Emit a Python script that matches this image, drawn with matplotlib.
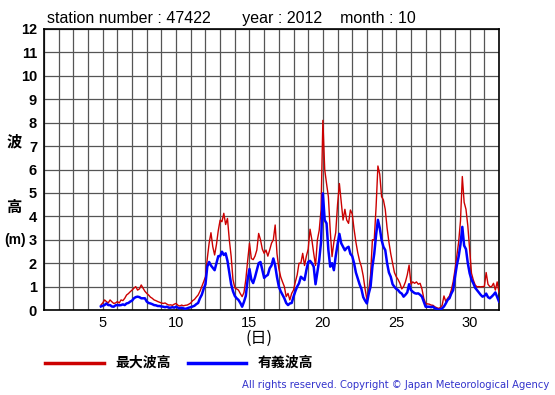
import numpy as np
import matplotlib
matplotlib.use("Agg")
import matplotlib.pyplot as plt

plt.rcParams['font.family'] = ['Liberation Sans', 'Noto Sans CJK JP', 'DejaVu Sans']

# --- data: 3-hourly values, one row per day (00,03,...,21h) ---
START_DAY = 4
nan = np.nan
# max wave height (m)
hmax = [
    nan, nan, nan, nan, nan, nan, nan, 0.21,          # 4
    0.30, 0.43, 0.36, 0.30, 0.43, 0.35, 0.28, 0.30,   # 5
    0.36, 0.30, 0.43, 0.40, 0.50, 0.64, 0.70, 0.78,   # 6
    0.85, 0.93, 1.00, 0.85, 0.90, 1.07, 0.93, 0.80,   # 7
    0.71, 0.64, 0.55, 0.50, 0.43, 0.40, 0.36, 0.33,   # 8
    0.30, 0.28, 0.30, 0.25, 0.21, 0.22, 0.20, 0.25,   # 9
    0.28, 0.20, 0.17, 0.21, 0.18, 0.20, 0.21, 0.25,   # 10
    0.30, 0.40, 0.45, 0.55, 0.64, 0.80, 1.00, 1.20,   # 11
    1.42, 2.20, 2.85, 3.30, 2.70, 2.35, 2.80, 3.40,   # 12
    3.84, 3.77, 4.13, 3.65, 3.91, 3.00, 2.30, 1.30,   # 13
    0.95, 0.90, 0.85, 0.70, 0.57, 0.75, 1.30, 2.10,   # 14
    2.85, 2.20, 2.15, 2.30, 2.56, 3.27, 3.00, 2.60,   # 15
    2.42, 2.56, 2.30, 2.56, 2.85, 3.00, 3.63, 2.40,   # 16
    1.78, 1.42, 1.20, 1.00, 0.57, 0.71, 0.43, 0.71,   # 17
    0.85, 1.20, 1.50, 2.00, 2.00, 2.42, 1.90, 2.30,   # 18
    2.60, 3.45, 3.00, 2.42, 1.90, 2.99, 3.40, 4.27,   # 19
    8.10, 6.00, 5.40, 4.84, 3.40, 2.28, 2.90, 3.30,   # 20
    4.50, 5.40, 4.60, 3.84, 4.30, 3.84, 3.70, 4.27,   # 21
    4.10, 3.45, 2.90, 2.45, 2.10, 1.85, 1.45, 0.90,   # 22
    0.45, 0.85, 1.50, 3.00, 3.00, 4.40, 6.15, 5.80,   # 23
    4.84, 4.70, 4.30, 3.50, 2.90, 2.40, 2.00, 1.60,   # 24
    1.42, 1.30, 1.14, 0.90, 1.00, 1.20, 1.50, 1.92,   # 25
    1.10, 1.20, 1.14, 1.20, 1.10, 1.14, 0.90, 0.50,   # 26
    0.28, 0.26, 0.25, 0.21, 0.20, 0.14, 0.10, 0.07,   # 27
    0.10, 0.20, 0.60, 0.36, 0.50, 0.60, 0.85, 1.20,   # 28
    1.71, 2.30, 2.90, 3.80, 5.70, 4.60, 4.30, 3.60,   # 29
    2.56, 1.57, 1.28, 1.07, 0.99, 1.00, 0.99, 1.00,   # 30
    1.00, 1.60, 1.10, 1.00, 1.00, 1.14, 0.85, 1.20,   # 31
    0.75,                                             # 32
]
# significant wave height (m)
hsig = [
    nan, nan, nan, nan, nan, nan, nan, 0.15,          # 4
    0.18, 0.21, 0.28, 0.21, 0.21, 0.15, 0.14, 0.20,   # 5
    0.21, 0.20, 0.21, 0.24, 0.21, 0.28, 0.30, 0.36,   # 6
    0.40, 0.50, 0.55, 0.57, 0.55, 0.50, 0.50, 0.50,   # 7
    0.36, 0.30, 0.28, 0.25, 0.21, 0.20, 0.17, 0.17,   # 8
    0.15, 0.14, 0.12, 0.14, 0.10, 0.10, 0.12, 0.10,   # 9
    0.14, 0.10, 0.07, 0.10, 0.07, 0.05, 0.07, 0.10,   # 10
    0.12, 0.15, 0.18, 0.25, 0.30, 0.50, 0.65, 0.90,   # 11
    1.10, 1.85, 2.05, 1.90, 1.80, 1.70, 2.00, 2.30,   # 12
    2.30, 2.49, 2.35, 2.42, 2.10, 1.60, 1.10, 0.80,   # 13
    0.60, 0.50, 0.43, 0.30, 0.14, 0.35, 0.60, 1.30,   # 14
    1.75, 1.30, 1.15, 1.40, 1.70, 2.00, 2.05, 1.70,   # 15
    1.37, 1.45, 1.50, 1.78, 1.90, 2.20, 1.90, 1.40,   # 16
    1.00, 0.80, 0.65, 0.50, 0.30, 0.21, 0.28, 0.30,   # 17
    0.57, 0.80, 1.00, 1.14, 1.42, 1.35, 1.28, 1.70,   # 18
    2.05, 2.10, 2.00, 1.85, 1.10, 1.60, 2.13, 2.90,   # 19
    4.98, 3.84, 3.70, 2.56, 1.85, 2.00, 1.70, 2.30,   # 20
    2.80, 3.25, 2.85, 2.70, 2.55, 2.65, 2.70, 2.40,   # 21
    2.30, 2.00, 1.60, 1.35, 1.10, 0.90, 0.55, 0.40,   # 22
    0.28, 0.70, 1.00, 1.85, 2.40, 3.20, 3.85, 3.50,   # 23
    2.99, 2.70, 2.56, 2.00, 1.60, 1.42, 1.10, 0.99,   # 24
    0.90, 0.85, 0.75, 0.70, 0.57, 0.65, 0.75, 1.10,   # 25
    0.85, 0.78, 0.72, 0.70, 0.71, 0.65, 0.57, 0.35,   # 26
    0.14, 0.14, 0.14, 0.12, 0.14, 0.07, 0.05, 0.00,   # 27
    0.03, 0.07, 0.15, 0.28, 0.43, 0.50, 0.70, 0.85,   # 28
    1.40, 1.90, 2.28, 2.80, 3.55, 2.75, 2.60, 2.00,   # 29
    1.57, 1.30, 1.14, 0.95, 0.85, 0.75, 0.65, 0.57,   # 30
    0.60, 0.70, 0.55, 0.50, 0.57, 0.65, 0.75, 0.55,   # 31
    0.36,                                             # 32
]
x_ticks = [5, 10, 15, 20, 25, 30]
title = "station number : 47422       year : 2012    month : 10"

t = START_DAY + np.arange(len(hsig)) * 0.125

W, H = 555, 395
fig = plt.figure(figsize=(W/100, H/100), dpi=100)
ax = fig.add_axes([44/W, 1-310/H, 455/W, 281/H])

ax.plot(t, hmax, color='#cc0000', lw=1.0, zorder=3)
ax.plot(t, hsig, color='#0000ff', lw=1.8, zorder=4)

ax.set_xlim(1, 32)
ax.set_ylim(0, 12)
ax.set_xticks(np.arange(1, 33), minor=True)
ax.set_xticks(x_ticks)
ax.set_yticks(np.arange(0, 13))
ax.grid(True, which='both', color='#555555', lw=0.9)
ax.tick_params(length=0, which='both')
ax.tick_params(axis='x', labelsize=10.5, pad=4)
ax.tick_params(axis='y', labelsize=10.5, pad=5)
for lb in ax.get_yticklabels():
    lb.set_fontweight('bold')
for s in ax.spines.values():
    s.set_linewidth(1.2)
    s.set_color('black')

def fx(x): return x/W
def fy(y): return 1 - y/H

fig.text(fx(47), fy(18), title, fontsize=11.5, va='center', ha='left')
fig.text(fx(14), fy(142), "波", fontsize=11, ha='center', va='center', fontweight='bold')
fig.text(fx(14), fy(208), "高", fontsize=11, ha='center', va='center', fontweight='bold')
fig.text(fx(15), fy(240), "(m)", fontsize=10, ha='center', va='center', fontweight='bold')
fig.text(fx(259), fy(338), "(日)", fontsize=11.5, ha='center', va='center',
         family=['Noto Sans CJK JP', 'DejaVu Sans'])

# legend
fig.add_artist(plt.Line2D([fx(45), fx(104)], [fy(363), fy(363)], color='#cc0000', lw=2.5))
fig.text(fx(115), fy(363), "最大波高", fontsize=10, ha='left', va='center', fontweight='bold')
fig.add_artist(plt.Line2D([fx(188), fx(246)], [fy(363), fy(363)], color='#0000ff', lw=2.5))
fig.text(fx(258), fy(363), "有義波高", fontsize=10, ha='left', va='center', fontweight='bold')
fig.text(fx(549), fy(385), "All rights reserved. Copyright © Japan Meteorological Agency",
         fontsize=7.2, ha='right', va='center', color='#3333cc', family='DejaVu Sans')

fig.savefig("out.png", dpi=100)
